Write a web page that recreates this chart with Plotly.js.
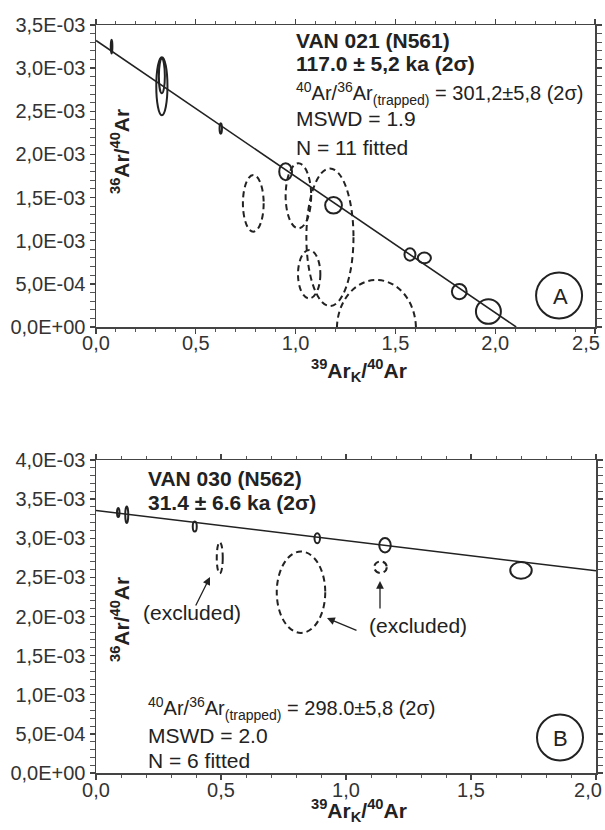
<!DOCTYPE html>
<html><head><meta charset="utf-8">
<script src="https://cdn.plot.ly/plotly-3.0.1.min.js"></script>
<style>body{margin:0;background:#fff}#chart{width:605px;height:830px}</style>
</head><body><div id="chart"></div>
<script>
// ---------- Panel A data (VAN 021, N561) ----------
const xTickValsA = [0, 0.5, 1.0, 1.5, 2.0, 2.5];
const xTickTextA = ['0,0', '0,5', '1,0', '1,5', '2,0', '2,5'];
const yTickValsA = [0, 0.0005, 0.0010, 0.0015, 0.0020, 0.0025, 0.0030, 0.0035];
const yTickTextA = ['0,0E+00', '5,0E-04', '1,0E-03', '1,5E-03', '2,0E-03', '2,5E-03', '3,0E-03', '3,5E-03'];
// ellipse centres (39Ar/40Ar, 36Ar/40Ar) and half-axes
const aX   = [0.078, 0.33, 0.33, 0.625, 0.95, 1.19, 1.573, 1.645, 1.82, 1.966, 0.788, 1.014, 1.172, 1.068, 1.405];
const aY   = [3.25e-3, 2.79e-3, 2.91e-3, 2.30e-3, 1.80e-3, 1.41e-3, 0.84e-3, 0.80e-3, 0.41e-3, 0.18e-3, 1.433e-3, 1.52e-3, 1.04e-3, 0.612e-3, -0.02e-3];
const aRx  = [0.004, 0.028, 0.015, 0.006, 0.032, 0.042, 0.0275, 0.033, 0.037, 0.0625, 0.052, 0.064, 0.118, 0.056, 0.198];
const aRy  = [0.08e-3, 0.336e-3, 0.2e-3, 0.06e-3, 0.098e-3, 0.096e-3, 0.072e-3, 0.062e-3, 0.087e-3, 0.143e-3, 0.328e-3, 0.377e-3, 0.797e-3, 0.28e-3, 0.565e-3];
const aExcluded = [false, false, false, false, false, false, false, false, false, false, true, true, true, true, true];
const trappedA = 301.2;        // 40Ar/36Ar trapped -> y intercept
const slopeA = -1.577e-3;      // isochron slope
const lineXA = [0, 2.105];

// ---------- Panel B data (VAN 030, N562) ----------
const xTickValsB = [0, 0.5, 1.0, 1.5, 2.0];
const xTickTextB = ['0,0', '0,5', '1,0', '1,5', '2,0'];
const yTickValsB = [0, 0.0005, 0.0010, 0.0015, 0.0020, 0.0025, 0.0030, 0.0035, 0.0040];
const yTickTextB = ['0,0E+00', '5,0E-04', '1,0E-03', '1,5E-03', '2,0E-03', '2,5E-03', '3,0E-03', '3,5E-03', '4,0E-03'];
const bX   = [0.089, 0.123, 0.395, 0.885, 1.156, 1.70, 0.495, 0.82, 1.138];
const bY   = [3.33e-3, 3.30e-3, 3.15e-3, 3.0e-3, 2.91e-3, 2.59e-3, 2.75e-3, 2.31e-3, 2.63e-3];
const bRx  = [0.005, 0.006, 0.008, 0.011, 0.023, 0.043, 0.012, 0.097, 0.025];
const bRy  = [0.058e-3, 0.106e-3, 0.064e-3, 0.064e-3, 0.092e-3, 0.106e-3, 0.2e-3, 0.52e-3, 0.074e-3];
const bExcluded = [false, false, false, false, false, false, true, true, true];
const trappedB = 298.0;
const slopeB = -0.386e-3;
const lineXB = [0, 2.0];

// ---------- helpers ----------
const W = 605, H = 830;
const px = x => x / W, py = y => 1 - y / H;
const FONT = 'Liberation Sans, Arial, sans-serif';
const INK = '#222';
const TICKFONT = {family: FONT, size: 20, color: '#333'};

function ellipses(xs, ys, rxs, rys, excl, xr, yr) {
  return xs.map((cx, i) => ({
    type: 'circle', xref: xr, yref: yr, layer: 'above',
    x0: cx - rxs[i], x1: cx + rxs[i], y0: ys[i] - rys[i], y1: ys[i] + rys[i],
    line: {color: INK, width: 2, dash: excl[i] ? '6px,4px' : 'solid'}
  }));
}
function fitLine(xs, trapped, slope, xa, ya) {
  return {x: xs, y: xs.map(x => 1 / trapped + slope * x), xaxis: xa, yaxis: ya,
    mode: 'lines', line: {color: INK, width: 1.6}, hoverinfo: 'skip', showlegend: false};
}
function axis(dom, range, vals, text, minor, anchor, labels) {
  return {domain: dom, range: range, anchor: anchor, tickvals: vals, ticktext: text,
    showline: true, linecolor: '#444', linewidth: 1.5, mirror: 'allticks',
    ticks: 'outside', ticklen: 5, tickwidth: 1.3, tickcolor: '#444',
    minor: {dtick: minor, ticks: 'outside', ticklen: 3, tickwidth: 1, tickcolor: '#555'},
    showgrid: false, zeroline: false, ticklabeloverflow: 'allow', showticklabels: labels,
    tickfont: TICKFONT};
}
// overlaid label-only x axes, placed so the labels sit close under the frame
function labelAxis(over, dom, range, vals, text, posPx, shift) {
  return {overlaying: over, anchor: 'free', position: py(posPx), domain: dom, range: range,
    tickvals: vals, ticktext: text, ticks: '', showline: false, showgrid: false, zeroline: false,
    ticklabeloverflow: 'allow', ticklabelshift: shift, tickfont: TICKFONT};
}
function txt(x, y, t, opts) {
  return Object.assign({xref: 'paper', yref: 'paper', x: px(x), y: py(y), text: t, showarrow: false,
    xanchor: 'left', yanchor: 'middle', font: {family: FONT, size: 21, color: INK}}, opts || {});
}
function arrow(x, y, ax, ay, xr, yr) {
  return {xref: xr, yref: yr, x: x, y: y, ax: ax, ay: ay, text: '', showarrow: true,
    arrowhead: 2, arrowsize: 1.2, arrowwidth: 1.3, arrowcolor: INK};
}
const empty = (xa, ya) => ({x: [], y: [], xaxis: xa, yaxis: ya, mode: 'markers', showlegend: false, hoverinfo: 'skip'});

const traces = [
  fitLine(lineXA, trappedA, slopeA, 'x', 'y'),
  fitLine(lineXB, trappedB, slopeB, 'x2', 'y2'),
  empty('x3', 'y'), empty('x4', 'y2'), empty('x5', 'y'), empty('x6', 'y2')
];

const shapes = []
  .concat(ellipses(aX, aY, aRx, aRy, aExcluded, 'x', 'y'))
  .concat(ellipses(bX, bY, bRx, bRy, bExcluded, 'x2', 'y2'))
  .concat([
    {type: 'circle', xref: 'x', yref: 'y', xsizemode: 'pixel', ysizemode: 'pixel', xanchor: 2.32, yanchor: 0.365e-3,
      x0: -23, x1: 23, y0: -23, y1: 23, line: {color: INK, width: 2}},
    {type: 'circle', xref: 'x2', yref: 'y2', xsizemode: 'pixel', ysizemode: 'pixel', xanchor: 1.856, yanchor: 0.454e-3,
      x0: -23, x1: 23, y0: -23, y1: 23, line: {color: INK, width: 2}}
  ]);

const yTitle = '<b><sup>36</sup>Ar/<sup>40</sup>Ar</b>';
const xTitle = '<b><sup>39</sup>Ar<sub>K</sub>/<sup>40</sup>Ar</b>';
const TF = {family: FONT, size: 21, color: INK};
const SMALL = {family: FONT, size: 20, color: INK};

const annotations = [
  // Panel A
  txt(294, 40, '<b>VAN 021 (N561)</b>'),
  txt(294, 63, '<b>117.0 ± 5,2 ka (2σ)</b>'),
  txt(294, 93, '<sup>40</sup>Ar/<sup>36</sup>Ar<sub>(trapped)</sub> = 301,2±5,8 (2σ)', {font: SMALL}),
  txt(294, 119, 'MSWD = 1.9'),
  txt(294, 147, 'N = 11 fitted'),
  txt(120, 152, yTitle, {xanchor: 'center', textangle: -90, font: TF}),
  txt(359, 370, xTitle, {xanchor: 'center', font: TF}),
  txt(560, 296, 'A', {xanchor: 'center', font: {family: FONT, size: 22, color: INK}}),
  // Panel B
  txt(146, 478, '<b>VAN 030 (N562)</b>'),
  txt(146, 502, '<b>31.4 ± 6.6 ka (2σ)</b>'),
  txt(146, 708, '<sup>40</sup>Ar/<sup>36</sup>Ar<sub>(trapped)</sub> = 298.0±5,8 (2σ)', {font: SMALL}),
  txt(146, 735, 'MSWD = 2.0'),
  txt(146, 760, 'N = 6 fitted'),
  txt(120, 620, yTitle, {xanchor: 'center', textangle: -90, font: TF}),
  txt(359, 810, xTitle, {xanchor: 'center', font: TF}),
  txt(560, 738, 'B', {xanchor: 'center', font: {family: FONT, size: 22, color: INK}}),
  txt(192, 612, '(excluded)', {xanchor: 'center'}),
  txt(418, 625, '(excluded)', {xanchor: 'center'}),
  arrow(0.456, 2.505e-3, -15, 30, 'x2', 'y2'),
  arrow(1.136, 2.454e-3, 0, 29, 'x2', 'y2'),
  arrow(0.924, 1.98e-3, 31, 13, 'x2', 'y2')
];

const domXA = [px(96), px(595)], domXB = [px(96), px(596)];
const nA = xTickValsA.length, nB = xTickValsB.length;
const layout = {
  width: W, height: H, margin: {l: 0, r: 0, t: 0, b: 0},
  paper_bgcolor: '#fff', plot_bgcolor: '#fff', showlegend: false,
  xaxis: axis(domXA, [0, 2.5], xTickValsA, xTickTextA, 0.1, 'y', false),
  yaxis: axis([py(327), py(25)], [0, 3.5e-3], yTickValsA, yTickTextA, 1e-4, 'x', true),
  xaxis2: axis(domXB, [0, 2.0], xTickValsB, xTickTextB, 0.1, 'y2', false),
  yaxis2: axis([py(773), py(460)], [0, 4.0e-3], yTickValsB, yTickTextB, 1e-4, 'x2', true),
  // all but the last label, then the last label nudged inward so it stays on the page
  xaxis3: labelAxis('x', domXA, [0, 2.5], xTickValsA.slice(0, nA - 1), xTickTextA.slice(0, nA - 1), 329, 0),
  xaxis5: labelAxis('x', domXA, [0, 2.5], xTickValsA.slice(nA - 1), xTickTextA.slice(nA - 1), 329, -9),
  xaxis4: labelAxis('x2', domXB, [0, 2.0], xTickValsB.slice(0, nB - 1), xTickTextB.slice(0, nB - 1), 776, 0),
  xaxis6: labelAxis('x2', domXB, [0, 2.0], xTickValsB.slice(nB - 1), xTickTextB.slice(nB - 1), 776, -8),
  shapes: shapes, annotations: annotations
};

Plotly.newPlot('chart', traces, layout, {staticPlot: true});
</script></body></html>
